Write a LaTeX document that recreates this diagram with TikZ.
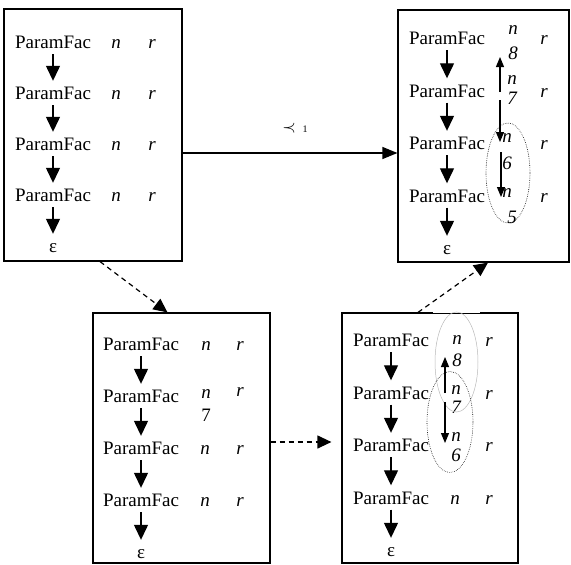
\documentclass[tikz,border=0pt]{standalone}
\usepackage{fontspec}
\setmainfont{Liberation Serif}
\usetikzlibrary{arrows.meta,positioning,shapes.geometric}
\newcommand{\rowfont}{\fontsize{19}{19}\selectfont}

\begin{document}
\begin{tikzpicture}[x=1pt,y=-1pt,
  panel/.style={draw,line width=1.2pt,inner sep=0pt},
  row/.style={font=\rowfont,inner sep=0pt,minimum height=24pt,text height=13pt,text depth=0pt},
  var/.style={font=\rowfont\itshape,inner sep=0pt,text height=13pt,text depth=0pt},
  flow/.style={-{Triangle[width=14pt,length=15pt]},line width=1.3pt},
  hop/.style={-{Triangle[width=8pt,length=10pt]},line width=1.1pt},
  move/.style={-{Triangle[width=13pt,length=14pt]},line width=1.2pt,dash pattern=on 5pt off 4pt},
  link/.style={-{Triangle[width=12pt,length=15pt]},line width=1.2pt},
  ring/.style={ellipse,draw,line width=0.6pt,dash pattern=on 0.6pt off 1.2pt,inner sep=0pt}]

  \useasboundingbox (0,0) rectangle (571,565);

  % the four snapshots
  \node[panel,minimum width=178pt,minimum height=252pt] (box1) at (93,135) {};
  \node[panel,minimum width=171pt,minimum height=252pt] (box2) at (483.5,136) {};
  \node[panel,minimum width=177pt,minimum height=250pt] (box3) at (181.5,438) {};
  \node[panel,minimum width=176pt,minimum height=250pt] (box4) at (430,438) {};
  \fill[white] (433,311) rectangle (480,315);
  \draw[line width=0.5pt] (433,313) -- (480,313);

  % top left
  \node[row] (a1) at (53,42) {ParamFac};
  \node[row,node distance=51pt] (a2) [below of=a1] {ParamFac};
  \node[row,node distance=51pt] (a3) [below of=a2] {ParamFac};
  \node[row,node distance=51pt] (a4) [below of=a3] {ParamFac};
  \node[row,node distance=51pt] (a5) [below of=a4] {ε};
  \node[var,node distance=63pt] (a1n) [right of=a1] {n};
  \node[var,node distance=63pt] (a2n) [right of=a2] {n};
  \node[var,node distance=63pt] (a3n) [right of=a3] {n};
  \node[var,node distance=63pt] (a4n) [right of=a4] {n};
  \node[var,node distance=99pt] (a1r) [right of=a1] {r};
  \node[var,node distance=99pt] (a2r) [right of=a2] {r};
  \node[var,node distance=99pt] (a3r) [right of=a3] {r};
  \node[var,node distance=99pt] (a4r) [right of=a4] {r};

  % top right
  \node[row] (b1) at (447,38) {ParamFac};
  \node[row,node distance=52.5pt] (b2) [below of=b1] {ParamFac};
  \node[row,node distance=52.5pt] (b3) [below of=b2] {ParamFac};
  \node[row,node distance=52.5pt] (b4) [below of=b3] {ParamFac};
  \node[row,node distance=52.5pt] (b5) [below of=b4] {ε};
  \node[var,node distance=66pt,yshift=10pt] (b1n) [right of=b1] {n};
  \node[var,node distance=65pt,yshift=12.5pt] (b2n) [right of=b2] {n};
  \node[var,node distance=60pt,yshift=7pt] (b3n) [right of=b3] {n};
  \node[var,node distance=60pt,yshift=4.5pt] (b4n) [right of=b4] {n};
  \node[var,node distance=25pt] (b1d) [below of=b1n] {8};
  \node[var,node distance=20pt] (b2d) [below of=b2n] {7};
  \node[var,node distance=27pt] (b3d) [below of=b3n] {6};
  \node[var,node distance=26pt,xshift=5pt] (b4d) [below of=b4n] {5};
  \node[var,node distance=97pt] (b1r) [right of=b1] {r};
  \node[var,node distance=97pt] (b2r) [right of=b2] {r};
  \node[var,node distance=97pt] (b3r) [right of=b3] {r};
  \node[var,node distance=97pt] (b4r) [right of=b4] {r};
  \node[ring,minimum width=44pt,minimum height=100pt] (b-loop) at (508,173) {};

  % bottom left
  \node[row] (c1) at (141,344) {ParamFac};
  \node[row,node distance=52pt] (c2) [below of=c1] {ParamFac};
  \node[row,node distance=52pt] (c3) [below of=c2] {ParamFac};
  \node[row,node distance=52pt] (c4) [below of=c3] {ParamFac};
  \node[row,node distance=52pt] (c5) [below of=c4] {ε};
  \node[var,node distance=65pt] (c1n) [right of=c1] {n};
  \node[var,node distance=65pt,yshift=4pt] (c2n) [right of=c2] {n};
  \node[var,node distance=64pt] (c3n) [right of=c3] {n};
  \node[var,node distance=64pt] (c4n) [right of=c4] {n};
  \node[var,node distance=23pt] (c2d) [below of=c2n] {\upshape 7};
  \node[var,node distance=99pt] (c1r) [right of=c1] {r};
  \node[var,node distance=99pt,yshift=6pt] (c2r) [right of=c2] {r};
  \node[var,node distance=99pt] (c3r) [right of=c3] {r};
  \node[var,node distance=99pt] (c4r) [right of=c4] {r};

  % bottom right
  \node[row] (d1) at (391,340) {ParamFac};
  \node[row,node distance=52.5pt] (d2) [below of=d1] {ParamFac};
  \node[row,node distance=52.5pt] (d3) [below of=d2] {ParamFac};
  \node[row,node distance=52.5pt] (d4) [below of=d3] {ParamFac};
  \node[row,node distance=52.5pt] (d5) [below of=d4] {ε};
  \node[var,node distance=66pt,yshift=2pt] (d1n) [right of=d1] {n};
  \node[var,node distance=65pt,yshift=4.5pt] (d2n) [right of=d2] {n};
  \node[var,node distance=65pt,yshift=10pt] (d3n) [right of=d3] {n};
  \node[var,node distance=64pt] (d4n) [right of=d4] {n};
  \node[var,node distance=22pt] (d1d) [below of=d1n] {8};
  \node[var,node distance=19pt] (d2d) [below of=d2n] {7};
  \node[var,node distance=20pt] (d3d) [below of=d3n] {6};
  \node[var,node distance=98pt] (d1r) [right of=d1] {r};
  \node[var,node distance=98pt] (d2r) [right of=d2] {r};
  \node[var,node distance=98pt] (d3r) [right of=d3] {r};
  \node[var,node distance=98pt] (d4r) [right of=d4] {r};
  \node[ring,draw=gray!55,solid,line width=0.5pt,minimum width=43pt,minimum height=100pt] (d-reach) at (456.5,362) {};
  \node[ring,minimum width=46pt,minimum height=101pt] (d-loop) at (450,422) {};

  % chains
  \draw[flow] (a1) -- (a2);
  \draw[flow] (a2) -- (a3);
  \draw[flow] (a3) -- (a4);
  \draw[flow] (a4) -- (a5);
  \draw[flow] (b1) -- (b2);
  \draw[flow] (b2) -- (b3);
  \draw[flow] (b3) -- (b4);
  \draw[flow] (b4) -- (b5);
  \draw[flow] (c1) -- (c2);
  \draw[flow] (c2) -- (c3);
  \draw[flow] (c3) -- (c4);
  \draw[flow] (c4) -- (c5);
  \draw[flow] (d1) -- (d2);
  \draw[flow] (d2) -- (d3);
  \draw[flow] (d3) -- (d4);
  \draw[flow] (d4) -- (d5);

  % links between the n's
  \coordinate (b-s1) at (500,92);  \coordinate (b-t1) at (500,57);
  \coordinate (b-s2) at (500,100); \coordinate (b-t2) at (500,142);
  \coordinate (b-s3) at (501,152); \coordinate (b-t3) at (501,197);
  \coordinate (d-s1) at (445,393); \coordinate (d-t1) at (445,357);
  \coordinate (d-s2) at (445,402); \coordinate (d-t2) at (445,443);
  \draw[hop] (b-s1) -- (b-t1);
  \draw[hop] (b-s2) -- (b-t2);
  \draw[hop] (b-s3) -- (b-t3);
  \draw[hop] (d-s1) -- (d-t1);
  \draw[hop] (d-s2) -- (d-t2);

  % steps
  \draw[link] ([yshift=-18pt]box1.east) -- node[above=16pt,xshift=5pt] (rank) {{\rowfont$\prec$}\hspace{7pt}{\fontsize{10}{10}\selectfont 1}} ([yshift=-17pt]box2.west);
  \draw[move] ([xshift=7pt]box1.south) -- ([xshift=-14pt]box3.north);
  \draw[move] ([yshift=-4pt]box3.east) -- ([yshift=-4pt,xshift=-10pt]box4.west);
  \draw[move] ([xshift=-12pt]box4.north) -- ([xshift=4.5pt]box2.south);

\end{tikzpicture}
\end{document}
